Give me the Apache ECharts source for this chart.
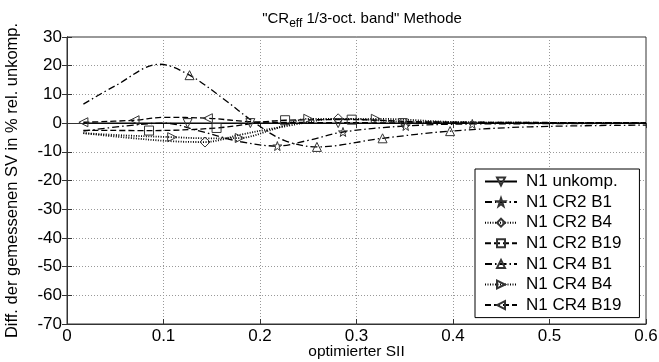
<!DOCTYPE html>
<html>
<head>
<meta charset="utf-8">
<script src="https://cdn.jsdelivr.net/npm/echarts@6/dist/echarts.min.js"></script>
<style>html,body{margin:0;padding:0;background:#fff;}#c{width:659px;height:362px;}</style>
</head>
<body>
<div id="c"></div>
<script>
// ---- data ----
const xTicks = [0, 0.1, 0.2, 0.3, 0.4, 0.5, 0.6];
const yTicks = [-70, -60, -50, -40, -30, -20, -10, 0, 10, 20, 30];

const seriesNames = ["N1 unkomp.", "N1 CR2 B1", "N1 CR2 B4", "N1 CR2 B19", "N1 CR4 B1", "N1 CR4 B4", "N1 CR4 B19"];

const xUnkomp = [0.017, 0.125, 0.19, 0.281, 0.348, 0.42, 0.5, 0.6];
const yUnkomp = [0, 0, 0, 0, 0, 0, 0, 0];
const mUnkomp = [1, 2, 3, 4];

const xCR2B1 = [0.017, 0.06, 0.1, 0.14, 0.18, 0.218, 0.25, 0.286, 0.351, 0.42, 0.5, 0.6];
const yCR2B1 = [-2.8, -1, 0, -3, -6.5, -8, -6, -3.1, -1, -0.3, -0.2, -0.1];
const mCR2B1 = [5, 7, 8, 9];

const xCR2B4 = [0.017, 0.06, 0.107, 0.143, 0.18, 0.22, 0.281, 0.35, 0.42, 0.5, 0.6];
const yCR2B4 = [-3.5, -5, -6.3, -6.6, -4, -1.5, 1.5, 0.5, 0.2, 0.1, 0];
const mCR2B4 = [3, 6];

const xCR2B19 = [0.017, 0.085, 0.155, 0.226, 0.295, 0.36, 0.43, 0.5, 0.6];
const yCR2B19 = [-2.5, -2.6, -1.7, 1, 1.2, 0.5, 0.3, 0.2, 0.1];
const mCR2B19 = [1, 2, 3, 4];

const xCR4B1 = [0.017, 0.05, 0.096, 0.127, 0.16, 0.195, 0.225, 0.259, 0.327, 0.397, 0.48, 0.6];
const yCR4B1 = [6.6, 13, 20.5, 16.7, 9, 0, -6, -8.3, -5.3, -2.8, -1.3, -0.7];
const mCR4B1 = [3, 7, 8, 9];

const xCR4B4 = [0.017, 0.06, 0.109, 0.145, 0.179, 0.215, 0.25, 0.32, 0.4, 0.48, 0.6];
const yCR4B4 = [-3.5, -4.3, -4.9, -5.3, -5.2, -2, 1.5, 1.5, 0.4, 0.1, 0];
const mCR4B4 = [2, 4, 6, 7];

const xCR4B19 = [0.017, 0.07, 0.1, 0.146, 0.19, 0.25, 0.33, 0.42, 0.5, 0.6];
const yCR4B19 = [0.3, 1, 2, 1.7, 0.5, 0.2, 0.1, 0, 0, 0];
const mCR4B19 = [0, 1, 3];

// ---- styles ----
const STAR = 'path://M0,-10 L2.35,-3.24 L9.51,-3.09 L3.8,1.24 L5.88,8.09 L0,4 L-5.88,8.09 L-3.8,1.24 L-9.51,-3.09 L-2.35,-3.24 Z';
const DASH = [6, 3];
const DOT = [1, 1.5];
const DASHDOT = [7, 3, 1.5, 3];

function build(xs, ys, marks) {
  return xs.map((x, i) => marks.includes(i) ? [x, ys[i]] : { value: [x, ys[i]], symbol: 'none' });
}
function mk(name, xs, ys, marks, type, symbol, rot, size, w) {
  return {
    name, type: 'line', data: build(xs, ys, marks), smooth: 0.35,
    symbol, symbolSize: size || 8, symbolRotate: rot || 0, showSymbol: true,
    lineStyle: { color: '#000', width: w || 1.3, type },
    itemStyle: { color: 'rgba(0,0,0,0)', borderColor: '#333', borderWidth: 1 },
    emphasis: { disabled: true }, z: 3
  };
}

const FONT = 'Liberation Sans, Arial, sans-serif';
const chart = echarts.init(document.getElementById('c'), null, { renderer: 'canvas' });
chart.setOption({
  animation: false,
  backgroundColor: '#fff',
  title: {
    text: '{a|"CR}{s|eff}{a| 1/3-oct. band" Methode}',
    left: 357, top: 2, textAlign: 'center',
    textStyle: { fontWeight: 'normal', rich: {
      a: { fontFamily: FONT, fontSize: 15, fontWeight: 'normal', color: '#000' },
      s: { fontFamily: FONT, fontSize: 12, fontWeight: 'normal', color: '#000', padding: [11, 0, 0, 0] }
    } }
  },
  grid: { left: 67, right: 13, top: 37, height: 287, show: true, borderColor: '#333', borderWidth: 1,
    containLabel: false, outerBoundsMode: 'none' },
  legend: {
    data: seriesNames, orient: 'vertical', left: 475, top: 169,
    backgroundColor: '#fff', borderColor: '#000', borderWidth: 1, padding: [4, 18, 4, 9],
    itemWidth: 32, itemHeight: 10, itemGap: 3.6,
    textStyle: { fontFamily: FONT, fontSize: 17, color: '#000', padding: [0, 0, 0, 4] },
    selectedMode: false
  },
  xAxis: [{
    type: 'value', min: xTicks[0], max: xTicks[xTicks.length - 1], interval: 0.1,
    name: 'optimierter SII', nameLocation: 'middle', nameGap: 20, nameMoveOverlap: false,
    nameTextStyle: { fontFamily: FONT, fontSize: 15.5, color: '#000', verticalAlign: 'top', lineHeight: 16 },
    axisLine: { show: true, onZero: false, lineStyle: { color: '#333' } },
    axisTick: { show: true, inside: true, length: 5, lineStyle: { color: '#333' } },
    axisLabel: { fontFamily: FONT, fontSize: 17, color: '#000', margin: 4, lineHeight: 17,
      formatter: v => v === 0 ? '0' : v.toFixed(1) },
    splitLine: { show: true, lineStyle: { color: '#999', type: [1, 2] } }
  }, {
    type: 'value', min: 0, max: 0.6, interval: 0.1, position: 'top',
    axisLine: { show: true, lineStyle: { color: '#333' } },
    axisTick: { show: true, inside: true, length: 5, lineStyle: { color: '#333' } },
    axisLabel: { show: false }, splitLine: { show: false }
  }],
  yAxis: [{
    type: 'value', min: yTicks[0], max: yTicks[yTicks.length - 1], interval: 10,
    name: 'Diff. der gemessenen SV in % rel. unkomp.', nameLocation: 'middle', nameGap: 46, nameMoveOverlap: false,
    nameTextStyle: { fontFamily: FONT, fontSize: 16.5, color: '#000' },
    axisLine: { show: true, onZero: false, lineStyle: { color: '#333' } },
    axisTick: { show: true, inside: true, length: 5, lineStyle: { color: '#333' } },
    axisLabel: { fontFamily: FONT, fontSize: 17, color: '#000', margin: 5 },
    splitLine: { show: true, lineStyle: { color: '#999', type: [1, 2] } }
  }, {
    type: 'value', min: -70, max: 30, interval: 10, position: 'right',
    axisLine: { show: true, lineStyle: { color: '#333' } },
    axisTick: { show: true, inside: true, length: 5, lineStyle: { color: '#333' } },
    axisLabel: { show: false }, splitLine: { show: false }
  }],
  series: [
    mk(seriesNames[0], xUnkomp, yUnkomp, mUnkomp, 'solid', 'triangle', 180, 9),
    mk(seriesNames[1], xCR2B1, yCR2B1, mCR2B1, DASHDOT, STAR, 0, 9),
    mk(seriesNames[2], xCR2B4, yCR2B4, mCR2B4, DOT, 'diamond', 0, 10, 1.8),
    mk(seriesNames[3], xCR2B19, yCR2B19, mCR2B19, DASH, 'rect', 0, 9),
    mk(seriesNames[4], xCR4B1, yCR4B1, mCR4B1, DASHDOT, 'triangle', 0, 9),
    mk(seriesNames[5], xCR4B4, yCR4B4, mCR4B4, DOT, 'triangle', -90, 9, 1.8),
    mk(seriesNames[6], xCR4B19, yCR4B19, mCR4B19, DASH, 'triangle', 90, 9)
  ]
});
</script>
</body>
</html>
